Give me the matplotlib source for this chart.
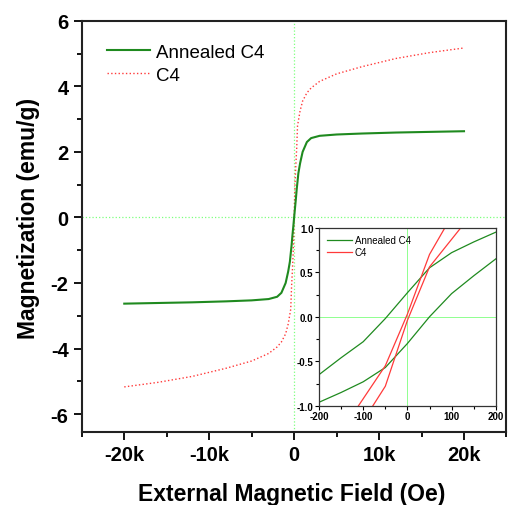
import numpy as np
import matplotlib
matplotlib.use("Agg")
import matplotlib.pyplot as plt
from matplotlib.ticker import MultipleLocator, FuncFormatter

plt.rcParams['font.family'] = ['Liberation Sans', 'DejaVu Sans']
plt.rcParams['axes.unicode_minus'] = False

# main M-H curves (field in Oe, magnetization in emu/g)
field = [-20000, -16000, -12000, -8000, -5000, -3000, -2000, -1500, -1000, -700, -500,
         -400, -300, -200, -100, 0, 100, 200, 300, 400, 500, 700, 1000, 1500, 2000,
         3000, 5000, 8000, 12000, 16000, 20000]
m_annealed = [-2.63, -2.61, -2.59, -2.56, -2.53, -2.49, -2.42, -2.3, -2.0, -1.65, -1.35,
              -1.1, -0.85, -0.55, -0.28, 0.0, 0.28, 0.55, 0.85, 1.1, 1.35, 1.65, 2.0, 2.3, 2.42,
              2.49, 2.53, 2.56, 2.59, 2.61, 2.63]
m_c4 = [-5.17, -5.03, -4.85, -4.6, -4.38, -4.15, -3.95, -3.8, -3.55, -3.25, -2.95,
        -2.8, -2.1, -1.6, -1.0, 0.0, 1.0, 1.6, 2.1, 2.8, 2.95, 3.25, 3.55, 3.8, 3.95,
        4.15, 4.38, 4.6, 4.85, 5.03, 5.17]

# low-field hysteresis loops for the inset
loop_h = [-200, -150, -100, -50, 0, 50, 100, 150, 200]
ann_upper = [-0.65, -0.46, -0.28, -0.02, 0.27, 0.55, 0.72, 0.84, 0.95]
ann_lower = [-0.96, -0.85, -0.73, -0.57, -0.30, 0.0, 0.26, 0.46, 0.65]
c4_h = [-150, -100, -50, 0, 50, 100, 150]
c4_upper = [-1.29, -0.92, -0.55, 0.03, 0.70, 1.13, 1.5]
c4_lower = [-1.56, -1.17, -0.78, -0.04, 0.56, 0.87, 1.18]

green = '#1f8a1f'
red = '#ff3a3a'
guide = '#7dff7d'

fig = plt.figure(figsize=(5.08, 5.06), dpi=100)
ax = fig.add_axes([0.161, 0.144, 0.836, 0.813])

ax.axhline(0, color=guide, lw=0.9, ls=':', zorder=1)
ax.axvline(0, color=guide, lw=0.9, ls=':', zorder=1)
ax.plot(field, m_annealed, color=green, lw=1.5, label='Annealed C4', zorder=3)
ax.plot(field, m_c4, color=red, lw=1.0, ls=':', label='C4', zorder=2)

ax.set_xlim(-25000, 25000)
ax.set_ylim(-6.55, 6)
ax.xaxis.set_major_locator(MultipleLocator(10000))
ax.xaxis.set_minor_locator(MultipleLocator(5000))
ax.yaxis.set_major_locator(MultipleLocator(2))
ax.yaxis.set_minor_locator(MultipleLocator(1))
ax.xaxis.set_major_formatter(FuncFormatter(lambda v, p: '0' if v == 0 else '%dk' % (v / 1000)))
ax.tick_params(which='both', direction='out', top=False, right=False, width=1.3)
ax.tick_params(which='major', length=6, labelsize=14.5)
ax.tick_params(which='minor', length=3.5)
for lab in ax.get_xticklabels() + ax.get_yticklabels():
    lab.set_fontweight('bold')
for s in ax.spines.values():
    s.set_linewidth(1.5)
    s.set_color('#222222')

xl = ax.set_xlabel('External Magnetic Field (Oe)', fontsize=16.5, fontweight='bold')
xl.set_verticalalignment('center')
ax.xaxis.set_label_coords(0.495, -0.150)
yl = ax.set_ylabel('Magnetization (emu/g)', fontsize=16.5, fontweight='bold')
yl.set_verticalalignment('center')
ax.yaxis.set_label_coords(-0.125, 0.523)

ax.legend(loc='upper left', frameon=False, fontsize=13.5, handlelength=2.3,
          handletextpad=0.3, labelspacing=0.3, bbox_to_anchor=(0.02, 0.985))

# inset
ins = fig.add_axes([0.628, 0.196, 0.348, 0.352])
ins.axhline(0, color=guide, lw=0.6, zorder=1)
ins.axvline(0, color=guide, lw=0.6, zorder=1)
ins.plot(loop_h, ann_upper, color=green, lw=0.9, label='Annealed C4')
ins.plot(loop_h, ann_lower, color=green, lw=0.9)
ins.plot(c4_h, c4_upper, color=red, lw=0.9, label='C4')
ins.plot(c4_h, c4_lower, color=red, lw=0.9)
ins.set_xlim(-200, 200)
ins.set_ylim(-1, 1)
ins.xaxis.set_major_locator(MultipleLocator(100))
ins.xaxis.set_minor_locator(MultipleLocator(50))
ins.yaxis.set_major_locator(MultipleLocator(0.5))
ins.yaxis.set_minor_locator(MultipleLocator(0.25))
ins.yaxis.set_major_formatter(FuncFormatter(lambda v, p: '%.1f' % v))
ins.tick_params(which='both', direction='out', top=False, right=False, width=0.8, pad=1)
ins.tick_params(which='major', length=3, labelsize=7)
ins.tick_params(which='minor', length=2)
for lab in ins.get_xticklabels() + ins.get_yticklabels():
    lab.set_fontweight('bold')
for s in ins.spines.values():
    s.set_linewidth(0.9)
    s.set_color('#333333')
ins.legend(loc='upper left', frameon=False, fontsize=7, handlelength=2.6,
           handletextpad=0.3, labelspacing=0.2, borderaxespad=0.4)

fig.savefig('out.png', dpi=100)
